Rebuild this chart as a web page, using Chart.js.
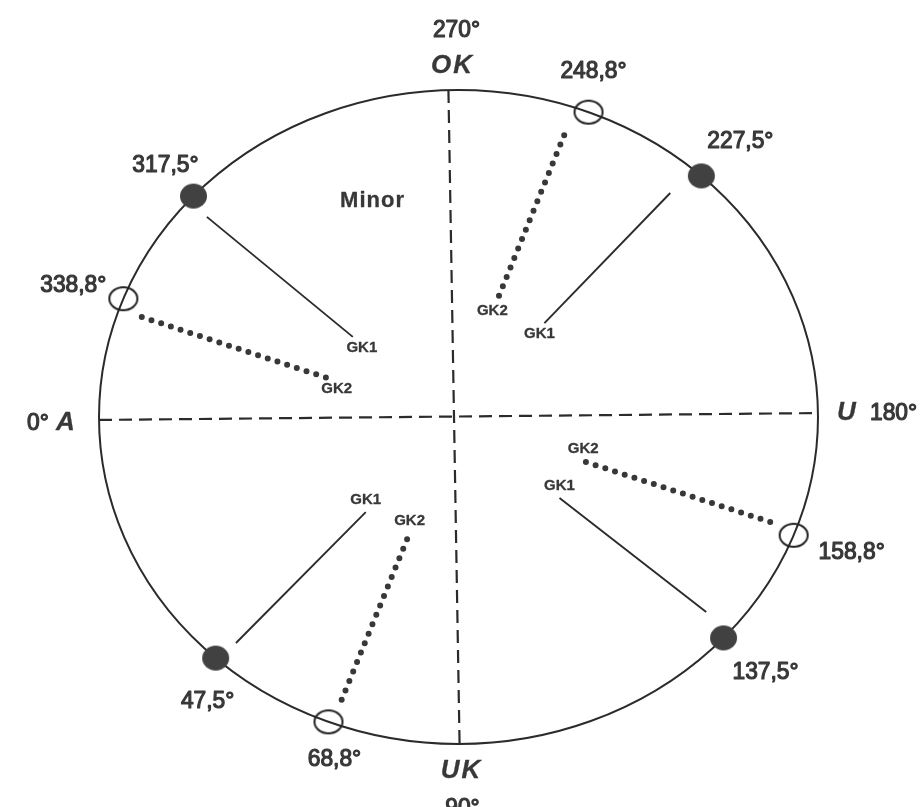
<!DOCTYPE html>
<html>
<head>
<meta charset="utf-8">
<script src="https://cdn.jsdelivr.net/npm/chart.js@4/dist/chart.umd.min.js"></script>
<style>
  html, body { margin: 0; padding: 0; background: #fff; }
  #wrap { width: 923px; height: 807px; }
</style>
</head>
<body>
<div id="wrap"><canvas id="chart" width="923" height="807"></canvas></div>
<script>
// angles on the circle, 0 = A (left), 90 = UK (bottom), 180 = U (right), 270 = OK (top)
const angles = [317.5, 338.8, 248.8, 227.5, 158.8, 137.5, 47.5, 68.8];
const angleLabels = ['317,5°', '338,8°', '248,8°', '227,5°', '158,8°', '137,5°', '47,5°', '68,8°'];
const kinds = ['GK1', 'GK2', 'GK2', 'GK1', 'GK2', 'GK1', 'GK1', 'GK2'];

// GK lines, start near the point, end towards the middle (data units)
const lineStartX = [-0.700, -0.881, 0.294, 0.589, 0.867, 0.689, -0.619, -0.325];
const lineStartY = [0.612, 0.306, 0.862, 0.685, -0.321, -0.596, -0.691, -0.865];
const lineEndX = [-0.294, -0.364, 0.108, 0.239, 0.347, 0.281, -0.258, -0.136];
const lineEndY = [0.245, 0.119, 0.358, 0.287, -0.135, -0.248, -0.291, -0.355];

// the dashed cross (slightly skewed on the scan)
const vertX = [-0.028, 0.003];
const vertY = [1, -1];
const horzX = [-1, 1];
const horzY = [-0.009, 0.012];

const ink = '#2b2b2b';
const textInk = '#383838';
const font = '"Liberation Sans", Arial, Helvetica, sans-serif';

const toXY = (deg) => {
    const r = deg * Math.PI / 180;
    return { x: -Math.cos(r), y: -Math.sin(r) };
};

// the scan is a bit squashed, so the markers are slightly oval
const makeMarker = (rx, ry, filled) => {
    const c = document.createElement('canvas');
    c.width = Math.ceil(rx * 2 + 4);
    c.height = Math.ceil(ry * 2 + 4);
    const g = c.getContext('2d');
    g.beginPath();
    g.ellipse(c.width / 2, c.height / 2, rx, ry, 0, 0, Math.PI * 2);
    if (filled) {
        g.fillStyle = '#414141';
        g.fill();
    } else {
        g.strokeStyle = '#222';
        g.lineWidth = 2;
        g.stroke();
    }
    return c;
};

const filledPts = [];
const openPts = [];
angles.forEach((a, i) => {
    (kinds[i] === 'GK1' ? filledPts : openPts).push(toXY(a));
});

const datasets = [
    { data: filledPts, pointStyle: makeMarker(13.5, 12.5, true), order: 0 },
    { data: openPts, pointStyle: makeMarker(14, 11.5, false), order: 0 }
];

kinds.forEach((k, i) => {
    const dotted = k === 'GK2';
    datasets.push({
        data: [{ x: lineStartX[i], y: lineStartY[i] }, { x: lineEndX[i], y: lineEndY[i] }],
        showLine: true,
        pointRadius: 0,
        borderColor: dotted ? '#383838' : ink,
        borderWidth: dotted ? 6 : 1.9,
        borderDash: dotted ? [0, 10.2] : [],
        borderCapStyle: dotted ? 'round' : 'butt',
        order: 1
    });
});

datasets.push({
    data: [{ x: vertX[0], y: vertY[0] }, { x: vertX[1], y: vertY[1] }],
    showLine: true, pointRadius: 0, borderColor: ink, borderWidth: 2.2,
    borderDash: [13, 7], order: 2
});
datasets.push({
    data: [{ x: horzX[0], y: horzY[0] }, { x: horzX[1], y: horzY[1] }],
    showLine: true, pointRadius: 0, borderColor: ink, borderWidth: 2.2,
    borderDash: [13, 7], order: 2
});

// pixel offsets of the angle labels from their points
const labelOffsets = [[-28, -31], [-50, -13], [5, -41], [39, -35], [58, 17], [42, 34], [-8, 43], [6, 38]];

const circlePlugin = {
    id: 'circleOutline',
    beforeDatasetsDraw(chart) {
        const { ctx, scales: { x, y } } = chart;
        const cx = x.getPixelForValue(0);
        const cy = y.getPixelForValue(0);
        const rx = x.getPixelForValue(1) - cx;
        const ry = cy - y.getPixelForValue(1);
        ctx.save();
        ctx.strokeStyle = ink;
        ctx.lineWidth = 2;
        ctx.beginPath();
        ctx.ellipse(cx, cy, rx, ry, 0, 0, Math.PI * 2);
        ctx.stroke();
        ctx.restore();
    }
};

// text a bit narrower and heavier, like the printed original
const drawText = (ctx, str, px, py, sx, align) => {
    ctx.save();
    ctx.translate(px, py);
    ctx.scale(sx, 1);
    ctx.textAlign = align || 'center';
    ctx.fillText(str, 0, 0);
    ctx.strokeText(str, 0, 0);
    ctx.restore();
};

const textPlugin = {
    id: 'diagramText',
    afterDatasetsDraw(chart) {
        const { ctx, scales: { x, y } } = chart;
        ctx.save();
        ctx.fillStyle = textInk;
        ctx.strokeStyle = textInk;
        ctx.lineJoin = 'round';
        ctx.textBaseline = 'middle';

        // angle values next to each point
        ctx.font = '24px ' + font;
        ctx.lineWidth = 1.2;
        angles.forEach((a, i) => {
            const p = toXY(a);
            const px = x.getPixelForValue(p.x) + labelOffsets[i][0];
            const py = y.getPixelForValue(p.y) + labelOffsets[i][1];
            drawText(ctx, angleLabels[i], px, py, 0.95);
        });

        // GK labels at the inner end of each line
        ctx.font = 'bold 15px ' + font;
        ctx.lineWidth = 0.3;
        kinds.forEach((k, i) => {
            const ex = x.getPixelForValue(lineEndX[i]);
            const ey = y.getPixelForValue(lineEndY[i]);
            const upper = lineEndY[i] > 0;
            const dx = upper ? (lineEndX[i] < 0 ? 9 : -5) : 0;
            drawText(ctx, k, ex + dx, ey + (upper ? 11 : -12), 1);
        });

        const cx = x.getPixelForValue(0);
        const cy = y.getPixelForValue(0);
        const top = y.getPixelForValue(1);
        const bottom = y.getPixelForValue(-1);
        const left = x.getPixelForValue(-1);
        const right = x.getPixelForValue(1);

        ctx.lineWidth = 1.2;
        ctx.font = '24px ' + font;
        drawText(ctx, '270°', cx - 2, top - 60, 0.95);
        drawText(ctx, '90°', cx + 4, bottom + 64, 0.95);
        drawText(ctx, '0°', left - 72, cy + 6, 0.95, 'left');
        drawText(ctx, '180°', right + 52, cy - 4, 0.95, 'left');

        ctx.font = 'bold 22px ' + font;
        ctx.letterSpacing = '1px';
        ctx.lineWidth = 0.3;
        drawText(ctx, 'Minor', cx - 86, top + 111, 1);

        ctx.font = 'italic bold 26px ' + font;
        ctx.letterSpacing = '2px';
        drawText(ctx, 'OK', cx - 6, top - 24, 1);
        drawText(ctx, 'UK', cx + 3, bottom + 27, 1);
        ctx.letterSpacing = '0px';
        drawText(ctx, 'A', left - 43, cy + 6, 1, 'left');
        drawText(ctx, 'U', right + 19, cy - 4, 1, 'left');
        ctx.restore();
    }
};

new Chart(document.getElementById('chart'), {
    type: 'scatter',
    data: { datasets },
    options: {
        responsive: false,
        animation: false,
        layout: { padding: { left: 99, right: 105, top: 90, bottom: 63 } },
        scales: {
            x: { type: 'linear', min: -1, max: 1, display: false },
            y: { type: 'linear', min: -1, max: 1, display: false }
        },
        plugins: {
            legend: { display: false },
            tooltip: { enabled: false }
        }
    },
    plugins: [circlePlugin, textPlugin]
});
</script>
</body>
</html>
